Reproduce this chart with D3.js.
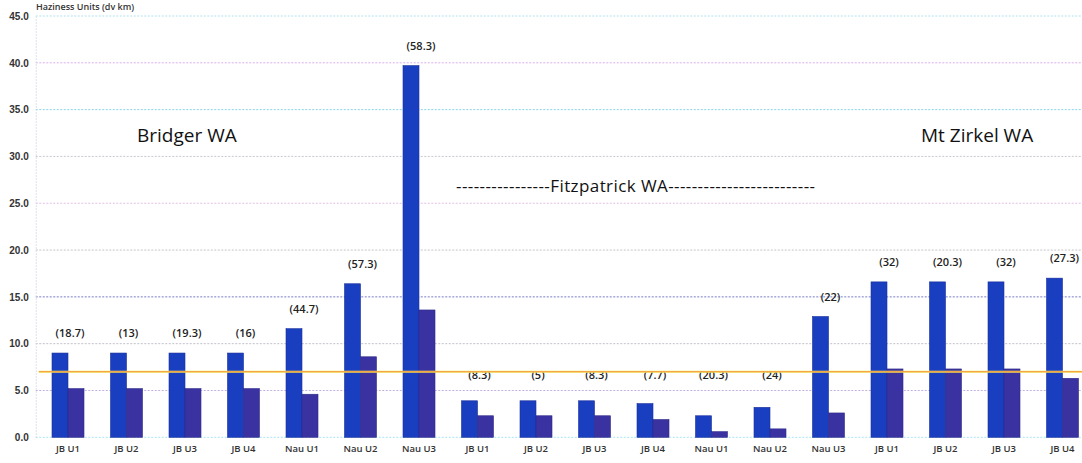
<!DOCTYPE html>
<html>
<head>
<meta charset="utf-8">
<script src="https://cdn.jsdelivr.net/npm/d3@7"></script>
<style>
    body { margin: 0; background: #fff; }
    svg { display: block; font-family: "Open Sans", "Noto Sans", sans-serif; }
</style>
</head>
<body>
<div id="chart_container"></div>
<script>
// unit names, three wilderness areas one after the other
let units = ["JB U1", "JB U2", "JB U3", "JB U4", "Nau U1", "Nau U2", "Nau U3",
    "JB U1", "JB U2", "JB U3", "JB U4", "Nau U1", "Nau U2", "Nau U3",
    "JB U1", "JB U2", "JB U3", "JB U4"];

// blue series and purple series
let blueValues = [9.0, 9.0, 9.0, 9.0, 11.6, 16.4, 39.7,
    3.9, 3.9, 3.9, 3.6, 2.3, 3.2, 12.9,
    16.6, 16.6, 16.6, 17.0];
let purpleValues = [5.2, 5.2, 5.2, 5.2, 4.6, 8.6, 13.6,
    2.3, 2.3, 2.3, 1.9, 0.6, 0.9, 2.6,
    7.3, 7.3, 7.3, 6.3];

// numbers written in brackets above each pair
let notes = ["(18.7)", "(13)", "(19.3)", "(16)", "(44.7)", "(57.3)", "(58.3)",
    "(8.3)", "(5)", "(8.3)", "(7.7)", "(20.3)", "(24)", "(22)",
    "(32)", "(20.3)", "(32)", "(27.3)"];

let yTicks = [0, 5, 10, 15, 20, 25, 30, 35, 40, 45];
let threshold = 7.0;

let width = 1082, height = 463;
let plotLeft = 38.75, step = 58.5;
let plotTop = 16, plotBottom = 437.3;

let svg = d3.select("#chart_container")
    .append("svg")
    .attr("width", width)
    .attr("height", height);

let x = d3.scaleBand()
    .domain(d3.range(units.length))
    .range([plotLeft, plotLeft + step * units.length]);

let sub = d3.scaleBand()
    .domain(["blue", "purple"])
    .range([-16, 16]);

let y = d3.scaleLinear()
    .domain([0, 45])
    .range([plotBottom, plotTop]);

// gridlines, scanned colours vary a bit
let gridColors = ["#a8e4f0", "#c4b0e0", "#c0c0cc", "#7c7cc8", "#c8c4c8",
    "#e4c0e8", "#c8c8d0", "#88d4ea", "#dcb0ec", "#b0e2ee"];

svg.append("g")
    .selectAll("line")
    .data(yTicks)
    .enter()
    .append("line")
    .attr("x1", plotLeft - 3)
    .attr("x2", width)
    .attr("y1", function (d) { return y(d); })
    .attr("y2", function (d) { return y(d); })
    .attr("stroke", function (d, i) { return gridColors[i]; })
    .attr("stroke-width", 1)
    .attr("stroke-dasharray", "2,1.5");

// y axis
let yAxis = svg.append("g")
    .attr("transform", "translate(" + (plotLeft - 3) + ",0)")
    .call(d3.axisLeft(y).tickValues(yTicks).tickFormat(d3.format(".1f")).tickSize(0).tickPadding(7));
yAxis.select(".domain")
    .attr("stroke", "#cfd8e8")
    .attr("stroke-dasharray", "1.5,1.5");
yAxis.selectAll("text")
    .style("font-size", "10px")
    .style("font-weight", "600")
    .attr("fill", "#333");

// bars
let groups = svg.append("g")
    .selectAll("g")
    .data(units)
    .enter()
    .append("g")
    .attr("transform", function (d, i) { return "translate(" + (x(i) + x.bandwidth() / 2) + ",0)"; });

groups.append("rect")
    .attr("x", sub("blue"))
    .attr("width", sub.bandwidth())
    .attr("y", function (d, i) { return y(blueValues[i]); })
    .attr("height", function (d, i) { return y(0) - y(blueValues[i]); })
    .attr("fill", "#1a3ec0")
    .attr("stroke", "#1a2f9a")
    .attr("stroke-width", 0.6);

groups.append("rect")
    .attr("x", sub("purple"))
    .attr("width", sub.bandwidth())
    .attr("y", function (d, i) { return y(purpleValues[i]); })
    .attr("height", function (d, i) { return y(0) - y(purpleValues[i]); })
    .attr("fill", "#3b32a2")
    .attr("stroke", "#2e2a86")
    .attr("stroke-width", 0.6);

// bracket notes above the pairs
groups.append("text")
    .attr("x", 2)
    .attr("y", function (d, i) { return y(Math.max(blueValues[i], 4.5)) - 16; })
    .attr("text-anchor", "middle")
    .style("font-size", "11px")
    .style("font-weight", "600")
    .attr("fill", "#222")
    .text(function (d, i) { return notes[i]; });

// unit labels under the axis
groups.append("text")
    .attr("y", plotBottom + 15)
    .attr("text-anchor", "middle")
    .style("font-size", "9.5px")
    .style("font-weight", "600")
    .attr("fill", "#333")
    .text(function (d) { return d; });

// threshold line, yellow with a red core
svg.append("line")
    .attr("x1", plotLeft)
    .attr("x2", width)
    .attr("y1", y(threshold))
    .attr("y2", y(threshold))
    .attr("stroke", "#f6ee5a")
    .attr("stroke-width", 2);
svg.append("line")
    .attr("x1", plotLeft)
    .attr("x2", width)
    .attr("y1", y(threshold))
    .attr("y2", y(threshold))
    .attr("stroke", "#ec3a22")
    .attr("stroke-width", 0.6)
    .attr("stroke-opacity", 0.85);

// area names
svg.append("text")
    .attr("x", 137)
    .attr("y", 142)
    .style("font-size", "19px")
    .attr("fill", "#111")
    .text("Bridger WA");

svg.append("text")
    .attr("x", 921)
    .attr("y", 142)
    .style("font-size", "19px")
    .attr("fill", "#111")
    .text("Mt Zirkel WA");

svg.append("text")
    .attr("x", 456)
    .attr("y", 192)
    .attr("textLength", 359)
    .style("font-size", "17px")
    .attr("fill", "#111")
    .text("----------------Fitzpatrick WA-------------------------");

// axis title, close to the top edge as in the scan
svg.append("text")
    .attr("x", 36)
    .attr("y", 10)
    .style("font-size", "9px")
    .style("font-weight", "600")
    .attr("fill", "#333")
    .text("Haziness Units (dv km)");
</script>
</body>
</html>
